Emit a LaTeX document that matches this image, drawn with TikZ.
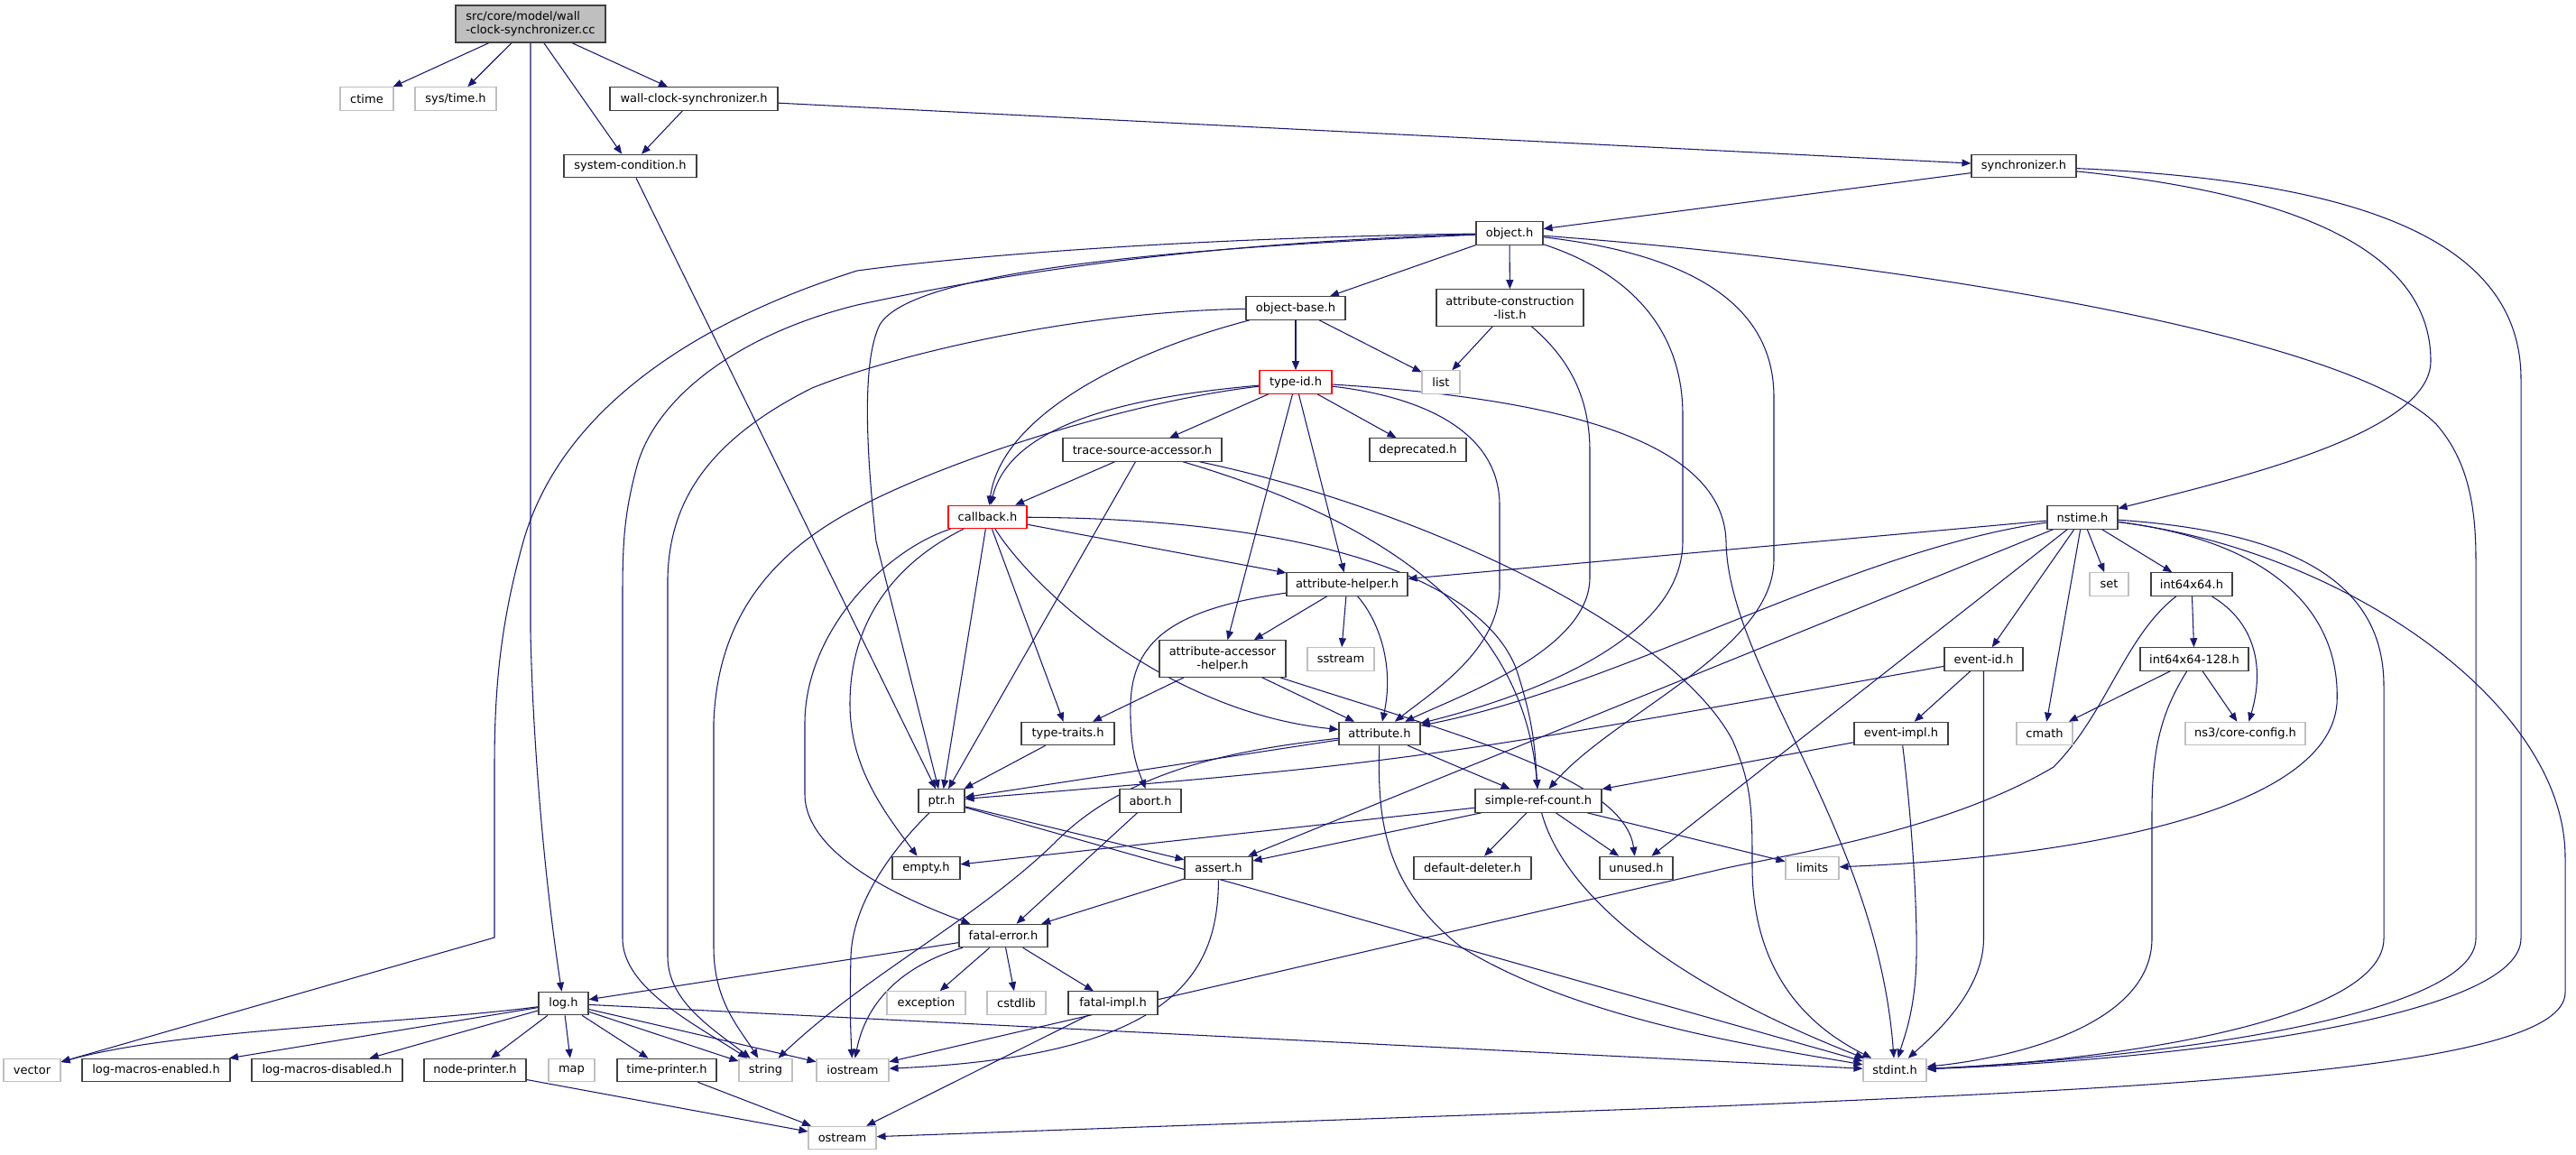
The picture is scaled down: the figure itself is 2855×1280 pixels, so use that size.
\documentclass[tikz,border=0pt]{standalone}
\usepackage{fontspec}
\setmainfont{DejaVu Sans}
\usetikzlibrary{arrows.meta}
\definecolor{edgeblue}{HTML}{191970}
\definecolor{extgray}{HTML}{BFBFBF}
\definecolor{boxline}{HTML}{404040}
\pgfdeclarelayer{background}
\pgfsetlayers{background,main}
\tikzset{
  hdr/.style={draw=boxline, line width=0.8pt, fill=white, inner sep=0pt,
    minimum height=25.5*0.75pt, font=\fontsize{9.75}{11.25}\selectfont, text=black},
  ext/.style={hdr, draw=extgray},
  trunc/.style={hdr, draw=red},
  tall/.style={minimum height=40.5*0.75pt, align=center},
  wd/.style={minimum width=#1*0.75pt},
  dep/.style={draw=edgeblue, line width=0.8pt, -{Triangle[length=7.5pt,width=6pt]}}
}
\begin{document}
\begin{tikzpicture}[x=0.75pt,y=-0.75pt]
\useasboundingbox (0,0) rectangle (2855,1280);
% ---------- nodes ----------
\node[hdr, fill=extgray, wd=166, minimum height=41*0.75pt, align=left] (main) at (588,26.5) {src/core/model/wall\\-clock-synchronizer.cc};
\node[ext, wd=59] (ctime) at (406.5,109.5) {ctime};
\node[ext, wd=90] (systime) at (505,109.5) {sys/time.h};
\node[hdr, wd=186] (wcs) at (769,109.5) {wall-clock-synchronizer.h};
\node[hdr, wd=147] (syscond) at (698.5,184) {system-condition.h};
\node[hdr, wd=116] (sync) at (2243,184) {synchronizer.h};
\node[hdr, wd=74] (object) at (1673,258.5) {object.h};
\node[hdr, wd=110] (objbase) at (1436,341.5) {object-base.h};
\node[hdr, wd=163, tall] (acl) at (1673.5,341) {attribute-construction\\-list.h};
\node[trunc, wd=80] (typeid) at (1436,423.5) {type-id.h};
\node[ext, wd=42] (list) at (1597,423.5) {list};
\node[hdr, wd=176] (tsa) at (1266,498.5) {trace-source-accessor.h};
\node[hdr, wd=107] (deprecated) at (1571.5,498.5) {deprecated.h};
\node[trunc, wd=87] (callback) at (1094.5,573) {callback.h};
\node[hdr, wd=78] (nstime) at (2308,573.5) {nstime.h};
\node[hdr, wd=134] (ahelper) at (1493,647.5) {attribute-helper.h};
\node[ext, wd=43] (set) at (2337.5,647.5) {set};
\node[hdr, wd=90] (int64) at (2429,647.5) {int64x64.h};
\node[hdr, wd=140, tall] (aah) at (1355,730) {attribute-accessor\\-helper.h};
\node[ext, wd=74] (sstream) at (1486,730.5) {sstream};
\node[hdr, wd=87] (eventid) at (2198.5,730.5) {event-id.h};
\node[hdr, wd=120] (int128) at (2432,730.5) {int64x64-128.h};
\node[hdr, wd=103] (typetraits) at (1183.5,813) {type-traits.h};
\node[hdr, wd=90] (attribute) at (1529,813) {attribute.h};
\node[hdr, wd=104] (eventimpl) at (2107,813) {event-impl.h};
\node[ext, wd=62] (cmath) at (2266,813) {cmath};
\node[ext, wd=133] (coreconfig) at (2488.5,813) {ns3/core-config.h};
\node[hdr, wd=51] (ptr) at (1043.5,887.5) {ptr.h};
\node[hdr, wd=68] (abort) at (1275,887.5) {abort.h};
\node[hdr, wd=140] (srefcount) at (1705,887.5) {simple-ref-count.h};
\node[hdr, wd=75] (empty) at (1026.5,962) {empty.h};
\node[hdr, wd=75] (assert) at (1350.5,962) {assert.h};
\node[hdr, wd=130] (deleter) at (1632,962) {default-deleter.h};
\node[hdr, wd=81] (unused) at (1813.5,962) {unused.h};
\node[ext, wd=59] (limits) at (2008.5,962) {limits};
\node[hdr, wd=98] (fatalerror) at (1112,1037) {fatal-error.h};
\node[hdr, wd=55] (log) at (624.5,1112) {log.h};
\node[ext, wd=87] (exception) at (1026.5,1111.5) {exception};
\node[ext, wd=65] (cstdlib) at (1126.5,1111.5) {cstdlib};
\node[hdr, wd=99] (fatalimpl) at (1233.5,1111.5) {fatal-impl.h};
\node[ext, wd=63] (vector) at (35.5,1186) {vector};
\node[hdr, wd=164] (lme) at (173,1186) {log-macros-enabled.h};
\node[hdr, wd=167] (lmd) at (362.5,1186) {log-macros-disabled.h};
\node[hdr, wd=113] (nodeprinter) at (526.5,1186) {node-printer.h};
\node[ext, wd=51] (map) at (633.5,1186) {map};
\node[hdr, wd=110] (timeprinter) at (739,1186) {time-printer.h};
\node[ext, wd=59] (string) at (848.5,1186) {string};
\node[ext, wd=80] (iostream) at (945,1186) {iostream};
\node[ext, wd=70] (stdint) at (2100,1186) {stdint.h};
\node[ext, wd=75] (ostream) at (933.5,1261) {ostream};
% ---------- edges ----------
\begin{pgfonlayer}{background}
\fill[white] (0,0) rectangle (2855,1280);
% main
\draw[dep] (main) -- (ctime);
\draw[dep] (main) -- (systime);
\draw[dep] (main) -- (wcs);
\draw[dep] (main) -- (syscond);
\draw[dep] (main.south) -- (588,700) .. controls (590,800) and (600,950) .. (log);
% wall-clock-synchronizer.h
\draw[dep] (wcs) -- (syscond);
\draw[dep] (wcs) -- (sync);
\draw[dep] (syscond) -- (ptr);
% synchronizer.h
\draw[dep] (sync) -- (object);
\draw[dep] (sync) .. controls (2550,215) and (2694,280) .. (2694,400) .. controls (2694,480) and (2480,530) .. (nstime);
\draw[dep] (sync) .. controls (2600,200) and (2794,260) .. (2794,420) -- (2794,1040) .. controls (2794,1130) and (2400,1175) .. (stdint);
% object.h
\draw[dep] (object) -- (objbase);
\draw[dep] (object) -- (acl);
\draw[dep] (object) .. controls (1300,264) and (1060,285) .. (950,300) .. controls (760,360) and (620,460) .. (580,600) .. controls (555,690) and (548,760) .. (548,850) -- (548,1039) -- (vector);
\draw[dep] (object) .. controls (1300,270) and (1080,310) .. (950,338) .. controls (820,370) and (725,440) .. (705,520) .. controls (692,570) and (690,600) .. (690,660) -- (690,1040) .. controls (690,1095) and (770,1135) .. (string);
\draw[dep] (object) .. controls (1300,275) and (1010,300) .. (975,360) .. controls (955,400) and (960,500) .. (971,600) -- (ptr);
\draw[dep] (object) .. controls (1800,300) and (1865,360) .. (1865,460) -- (1865,600) .. controls (1865,720) and (1660,780) .. (attribute);
\draw[dep] (object) .. controls (1860,280) and (1966,330) .. (1966,440) -- (1966,620) .. controls (1966,720) and (1790,790) .. (srefcount);
\draw[dep] (object) .. controls (2100,290) and (2600,370) .. (2700,470) .. controls (2735,510) and (2744,560) .. (2744,620) -- (2744,1040) .. controls (2744,1125) and (2400,1172) .. (stdint);
% object-base.h
\draw[dep] (objbase) -- (typeid);
\draw[dep] (objbase) -- (list);
\draw[dep] (objbase) .. controls (1250,390) and (1110,460) .. (callback);
\draw[dep] (objbase) .. controls (1200,345) and (1000,390) .. (900,430) .. controls (780,490) and (742,560) .. (740,640) -- (740,1060) .. controls (740,1110) and (790,1140) .. (string);
% attribute-construction-list.h
\draw[dep] (acl) -- (list);
\draw[dep] (acl) .. controls (1730,390) and (1762,430) .. (1762,500) -- (1762,640) .. controls (1762,720) and (1620,770) .. (attribute);
% type-id.h
\draw[dep] (typeid) -- (tsa);
\draw[dep] (typeid) -- (deprecated);
\draw[dep] (typeid) .. controls (1250,440) and (1120,470) .. (callback);
\draw[dep] (typeid) -- (ahelper);
\draw[dep] (typeid) -- (aah);
\draw[dep] (typeid) .. controls (1580,440) and (1662,480) .. (1662,560) -- (1662,650) .. controls (1662,720) and (1590,765) .. (attribute);
\draw[dep] (typeid) .. controls (1250,445) and (1050,510) .. (950,563) .. controls (840,620) and (795,700) .. (791,800) -- (791,1050) .. controls (791,1110) and (820,1140) .. (string);
\draw[dep] (typeid) .. controls (1700,440) and (1910,480) .. (1913,600) .. controls (1915,740) and (2080,920) .. (stdint);
% trace-source-accessor.h
\draw[dep] (tsa) -- (callback);
\draw[dep] (tsa) -- (ptr);
\draw[dep] (tsa) .. controls (1560,585) and (1690,700) .. (srefcount);
\draw[dep] (tsa) .. controls (1560,560) and (1850,690) .. (1920,820) .. controls (1942,870) and (1942,900) .. (1942,960) .. controls (1942,1100) and (2030,1150) .. (stdint);
% callback.h
\draw[dep] (callback) -- (ahelper);
\draw[dep] (callback) .. controls (1150,660) and (1300,790) .. (attribute);
\draw[dep] (callback) -- (typetraits);
\draw[dep] (callback) -- (ptr);
\draw[dep] (callback) .. controls (1450,575) and (1640,640) .. (1680,740) .. controls (1700,800) and (1701,830) .. (srefcount);
\draw[dep] (callback) .. controls (980,610) and (893,700) .. (892,800) -- (892,880) .. controls (892,950) and (1010,1000) .. (fatalerror);
\draw[dep] (callback) .. controls (990,625) and (942,690) .. (942,780) .. controls (942,850) and (980,900) .. (empty);
% attribute-helper.h
\draw[dep] (ahelper) -- (aah);
\draw[dep] (ahelper) -- (sstream);
\draw[dep] (ahelper) .. controls (1530,690) and (1545,740) .. (attribute);
\draw[dep] (ahelper) .. controls (1300,675) and (1255,710) .. (1253,780) .. controls (1252,830) and (1260,850) .. (abort);
% attribute-accessor-helper.h
\draw[dep] (aah) -- (typetraits);
\draw[dep] (aah) -- (attribute);
\draw[dep] (aah) .. controls (1600,810) and (1800,860) .. (unused);
% type-traits.h
\draw[dep] (typetraits) -- (ptr);
% attribute.h
\draw[dep] (attribute) -- (ptr);
\draw[dep] (attribute) .. controls (1380,830) and (1250,850) .. (1168,935) .. controls (1080,1020) and (960,1080) .. (string);
\draw[dep] (attribute) -- (srefcount);
\draw[dep] (attribute) .. controls (1527,900) and (1530,980) .. (1620,1050) .. controls (1750,1130) and (1950,1160) .. (stdint);
% ptr.h
\draw[dep] (ptr) -- (assert);
\draw[dep] (ptr) .. controls (990,940) and (945,1000) .. (943,1060) .. controls (942,1100) and (942,1130) .. (iostream);
\draw[dep] (ptr) -- (stdint);
% abort.h
\draw[dep] (abort) -- (fatalerror);
% simple-ref-count.h
\draw[dep] (srefcount) -- (empty);
\draw[dep] (srefcount) -- (assert);
\draw[dep] (srefcount) -- (deleter);
\draw[dep] (srefcount) -- (unused);
\draw[dep] (srefcount) -- (limits);
\draw[dep] (srefcount) .. controls (1730,980) and (1830,1080) .. (stdint);
% assert.h
\draw[dep] (assert) -- (fatalerror);
\draw[dep] (assert) .. controls (1350,1080) and (1300,1170) .. (iostream);
% fatal-error.h
\draw[dep] (fatalerror) -- (log);
\draw[dep] (fatalerror) -- (exception);
\draw[dep] (fatalerror) -- (cstdlib);
\draw[dep] (fatalerror) -- (fatalimpl);
\draw[dep] (fatalerror) .. controls (1000,1070) and (960,1110) .. (iostream);
\draw[dep] (fatalimpl) -- (ostream);
% log.h
\draw[dep] (log) .. controls (450,1135) and (200,1140) .. (vector);
\draw[dep] (log) -- (lme);
\draw[dep] (log) -- (lmd);
\draw[dep] (log) -- (nodeprinter);
\draw[dep] (log) -- (map);
\draw[dep] (log) -- (timeprinter);
\draw[dep] (log) -- (string);
\draw[dep] (log) -- (iostream);
\draw[dep] (log) -- (stdint);
\draw[dep] (nodeprinter) -- (ostream);
\draw[dep] (timeprinter) -- (ostream);
% nstime.h
\draw[dep] (nstime) -- (ahelper);
\draw[dep] (nstime) .. controls (2050,610) and (1800,760) .. (attribute);
\draw[dep] (nstime) -- (assert);
\draw[dep] (nstime) -- (unused);
\draw[dep] (nstime) -- (eventid);
\draw[dep] (nstime) -- (cmath);
\draw[dep] (nstime) -- (set);
\draw[dep] (nstime) -- (int64);
\draw[dep] (nstime) .. controls (2520,600) and (2595,680) .. (2590,780) .. controls (2580,900) and (2300,950) .. (limits);
\draw[dep] (nstime) .. controls (2550,590) and (2642,650) .. (2642,760) -- (2642,1040) .. controls (2642,1130) and (2350,1175) .. (stdint);
\draw[dep] (nstime) .. controls (2600,610) and (2843,780) .. (2843,950) -- (2843,1100) .. controls (2843,1185) and (2400,1205) .. (1900,1226) -- (ostream);
% int64x64.h
\draw[dep] (int64) -- (int128);
\draw[dep] (int64) .. controls (2500,690) and (2510,740) .. (coreconfig);
\draw[dep] (int64) .. controls (2355,705) and (2335,790) .. (2276,850) .. controls (2150,925) and (1960,950) .. (1900,965) -- (iostream);
% int64x64-128.h
\draw[dep] (int128) -- (cmath);
\draw[dep] (int128) -- (coreconfig);
\draw[dep] (int128) .. controls (2395,790) and (2385,830) .. (2385,900) -- (2385,1040) .. controls (2385,1130) and (2250,1170) .. (stdint);
% event-id.h
\draw[dep] (eventid) -- (eventimpl);
\draw[dep] (eventid) .. controls (1560,845) .. (ptr);
\draw[dep] (eventid.south) -- (2198.5,1040) .. controls (2198.5,1100) and (2140,1150) .. (stdint);
% event-impl.h
\draw[dep] (eventimpl) -- (srefcount);
\draw[dep] (eventimpl) .. controls (2118,900) and (2125,1000) .. (2124,1060) .. controls (2123,1120) and (2110,1150) .. (stdint);
\end{pgfonlayer}
\end{tikzpicture}
\end{document}
